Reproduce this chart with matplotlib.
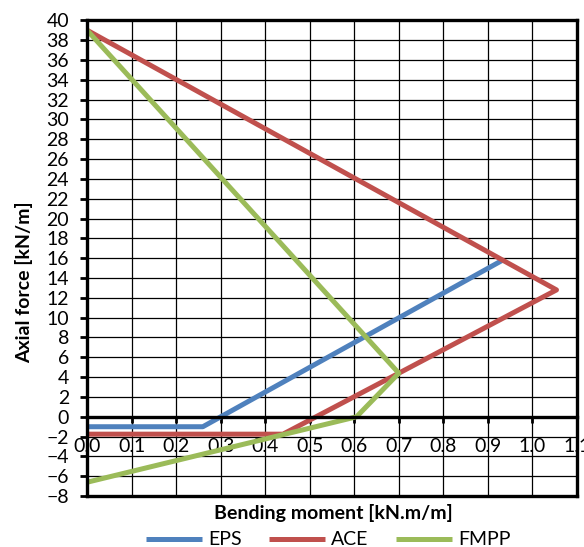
import matplotlib.pyplot as plt

plt.rcParams['font.family'] = ['Lato', 'DejaVu Sans']

# Interaction diagram points (bending moment, axial force)
eps_m = [0.0, 0.26, 0.933]
eps_n = [-1.0, -1.0, 15.8]

ace_m = [0.0, 1.054, 0.70, 0.44, 0.0]
ace_n = [39.0, 12.8, 4.4, -1.75, -1.75]

fmpp_m = [0.0, 0.70, 0.605, 0.0]
fmpp_n = [39.0, 4.4, 0.0, -6.6]

x_ticks = [round(0.1 * i, 1) for i in range(12)]
y_ticks = list(range(-8, 41, 2))

fig = plt.figure(figsize=(5.84, 5.47), dpi=100)
ax = fig.add_axes([0.149, 0.093, 0.839, 0.870])

ax.plot(eps_m, eps_n, color='#4F81BD', lw=3.6, label='EPS', solid_capstyle='butt')
ax.plot(ace_m, ace_n, color='#C0504D', lw=3.6, label='ACE', solid_capstyle='butt')
ax.plot(fmpp_m, fmpp_n, color='#9BBB59', lw=3.6, label='FMPP', solid_capstyle='butt')

ax.set_xlim(0, 1.1)
ax.set_ylim(-8, 40)
ax.set_xticks(x_ticks)
ax.set_xticklabels([f'{v:.1f}' for v in x_ticks])
ax.set_yticks(y_ticks)

ax.grid(True, color='black', lw=0.9)
ax.set_axisbelow(True)

ax.spines['bottom'].set_position(('data', 0))
for s in ['left', 'bottom', 'top', 'right']:
    ax.spines[s].set_linewidth(2.4)
    ax.spines[s].set_color('black')
ax.axhline(-8, color='black', lw=2.4, clip_on=False)

ax.tick_params(axis='x', direction='out', length=4, width=2, pad=11, labelsize=14)
ax.tick_params(axis='y', direction='out', length=5, width=2, pad=8, labelsize=14)

ax.set_ylabel('Axial force [kN/m]', fontsize=14, fontweight='bold')
ax.yaxis.set_label_coords(-0.11, 0.45)
fig.text(0.57, 0.062, 'Bending moment [kN.m/m]', ha='center', va='center',
         fontsize=14, fontweight='bold')

fig.legend(loc='center', bbox_to_anchor=(0.562, 0.013), ncol=3, frameon=False,
           fontsize=14, handlelength=2.9, columnspacing=1.4, handletextpad=0.3)

fig.savefig('out.png', dpi=100)
